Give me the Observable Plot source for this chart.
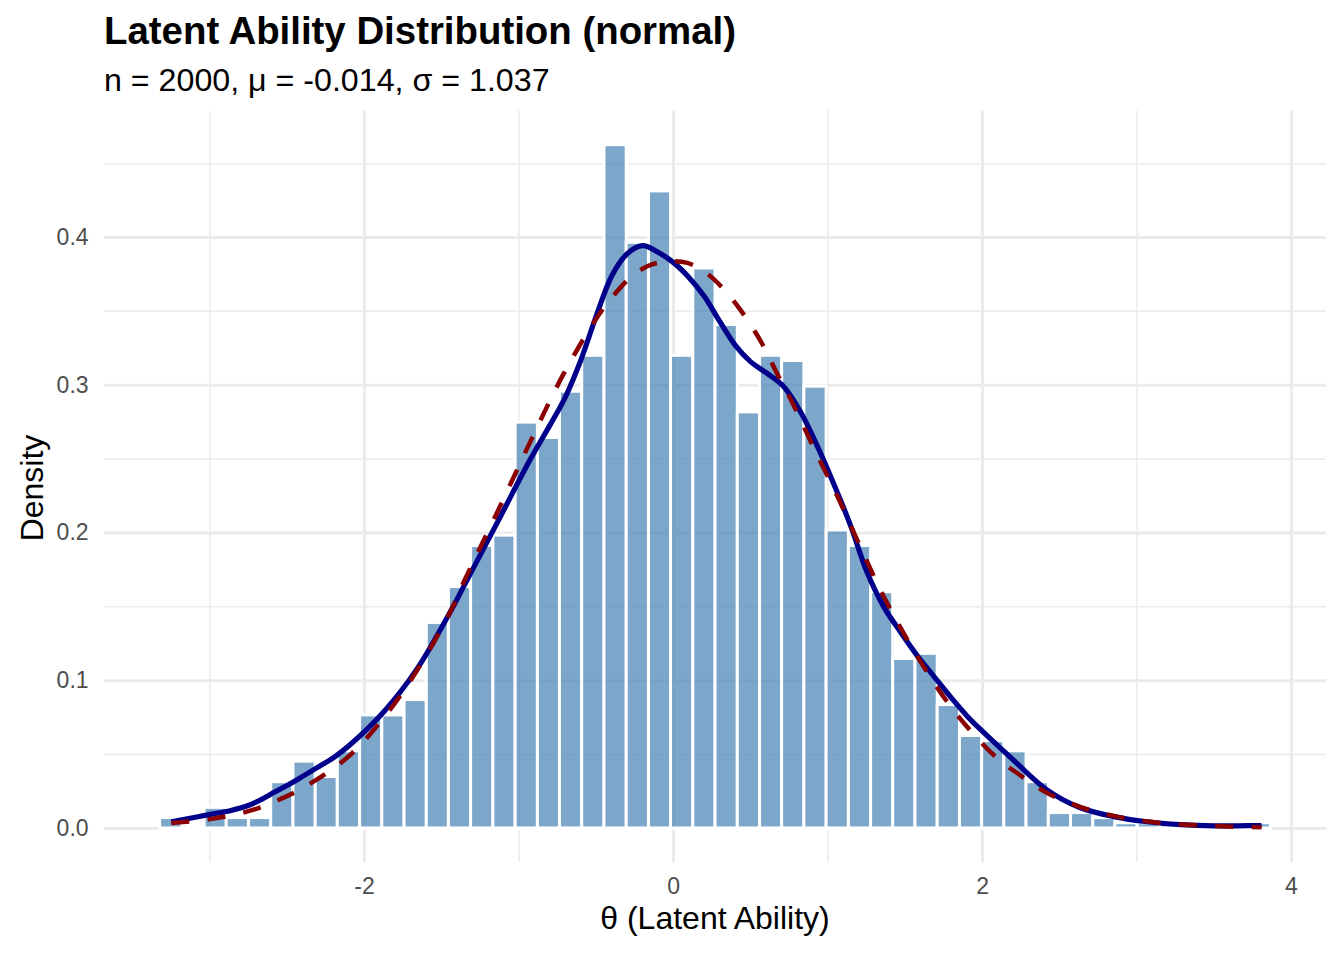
<!DOCTYPE html>
<html><head><meta charset="utf-8">
<script src="https://cdn.jsdelivr.net/npm/d3@7"></script>
<script src="https://cdn.jsdelivr.net/npm/@observablehq/plot@0.6"></script>
<style>
html,body{margin:0;padding:0;background:#fff;overflow:hidden;}
#wrap{position:relative;width:1344px;height:960px;font-family:"Liberation Sans",Arial,Helvetica,sans-serif;}
#title{position:absolute;left:104px;top:12px;font-size:38.4px;font-weight:bold;line-height:38px;color:#000;white-space:nowrap;}
#subtitle{position:absolute;left:104px;top:64px;font-size:32.2px;line-height:32px;color:#000;white-space:nowrap;}
#chart{position:absolute;left:0;top:100px;}
#xtitle{position:absolute;left:715px;top:902px;transform:translateX(-50%);font-size:32px;line-height:32px;color:#000;white-space:nowrap;}
#ytitle{position:absolute;left:31.5px;top:488px;transform:translate(-50%,-50%) rotate(-90deg);font-size:32px;line-height:32px;color:#000;white-space:nowrap;}
</style></head><body>
<div id="wrap">
<div id="title">Latent Ability Distribution (normal)</div>
<div id="subtitle">n = 2000, μ = -0.014, σ = 1.037</div>
<div id="chart"></div>
<div id="xtitle">θ (Latent Ability)</div>
<div id="ytitle">Density</div>
</div>
<script>
// Histogram bin edges (theta)
const binEdges = [-3.323,-3.179,-3.035,-2.892,-2.748,-2.604,-2.460,-2.316,-2.173,-2.029,
  -1.885,-1.741,-1.597,-1.454,-1.310,-1.166,-1.022,-0.878,-0.735,-0.591,
  -0.447,-0.303,-0.159,-0.016,0.128,0.272,0.416,0.560,0.703,0.847,
  0.991,1.135,1.279,1.422,1.566,1.710,1.854,1.998,2.141,2.285,
  2.429,2.573,2.717,2.860,3.004,3.148,3.292,3.436,3.579,3.723,3.867];
// Histogram densities per bin
const binDensity = [0.0070,0,0.0139,0.0070,0.0070,0.0313,0.0452,0.0348,0.0522,0.0765,
  0.0765,0.0869,0.1391,0.1634,0.1912,0.1982,0.2747,0.2643,0.2956,0.3199,
  0.4625,0.3964,0.4312,0.3199,0.3790,0.3408,0.2816,0.3199,0.3164,0.2990,
  0.2017,0.1912,0.1599,0.1147,0.1182,0.0835,0.0626,0.0591,0.0522,0.0313,
  0.0104,0.0104,0.0070,0.0035,0.0035,0.0035,0.0035,0,0.0035,0.0035];
// Kernel density curve
const kdeX = [-3.251,-3.0,-2.87,-2.74,-2.67,-2.61,-2.52,-2.42,-2.31,-2.20,-2.09,-1.875,-1.66,-1.443,-1.357,-1.141,-0.926,-0.80,-0.70,-0.60,-0.50,-0.40,-0.30,-0.20,-0.10,0.0,0.10,0.20,0.30,0.40,0.498,0.606,0.714,0.822,0.930,1.038,1.146,1.254,1.361,1.469,1.577,1.685,1.793,1.901,1.987,2.203,2.419,2.634,2.850,3.066,3.282,3.497,3.650,3.806];
const kdeY = [0.0045,0.0095,0.012,0.016,0.0195,0.023,0.028,0.034,0.041,0.048,0.057,0.079,0.108,0.147,0.164,0.207,0.250,0.273,0.292,0.317,0.347,0.374,0.389,0.3945,0.390,0.383,0.373,0.360,0.343,0.327,0.316,0.308,0.299,0.282,0.259,0.233,0.205,0.173,0.150,0.133,0.117,0.103,0.089,0.076,0.067,0.046,0.026,0.014,0.008,0.0045,0.0026,0.0017,0.0018,0.002];
// Reference normal curve
const normX = [-3.251,-3.0,-2.74,-2.52,-2.31,-2.09,-1.875,-1.66,-1.443,-1.357,-1.141,-0.926,-0.710,-0.494,-0.386,-0.278,-0.170,-0.063,0.089,0.218,0.325,0.433,0.563,0.670,0.780,0.910,1.060,1.190,1.380,1.640,1.850,2.090,2.230,2.419,2.634,2.870,3.100,3.340,3.580,3.806];
const normY = [0.0036,0.0063,0.012,0.021,0.033,0.050,0.075,0.107,0.147,0.167,0.214,0.262,0.308,0.346,0.361,0.373,0.3805,0.3835,0.3828,0.3755,0.3650,0.351,0.330,0.308,0.286,0.257,0.225,0.195,0.153,0.106,0.075,0.048,0.037,0.024,0.0145,0.008,0.0043,0.0024,0.0013,0.0008];
// Ticks
const xMajor = [-2,0,2,4];
const xMinor = [-3,-1,1,3];
const yMajor = [0,0.1,0.2,0.3,0.4];
const yMinor = [0.05,0.15,0.25,0.35,0.45];

const bins = binDensity.map((d,i)=>({x1: binEdges[i], x2: binEdges[i+1], density: d}));
const kde = kdeX.map((x,i)=>({x, y: kdeY[i]}));
const norm = normX.map((x,i)=>({x, y: normY[i]}));

const xLo = binEdges[0], xHi = binEdges[binEdges.length-1];
const xPad = (xHi - xLo) * 0.05;
const yMax = d3.max(binDensity);
const xDomain = [xLo - xPad, xHi + xPad];
const yDomain = [-yMax*0.05, yMax*1.05];

const grid = "#EBEBEB";
const chart = Plot.plot({
  width: 1344, height: 860,
  marginLeft: 104.1, marginRight: 18, marginTop: 10.5, marginBottom: 97.9,
  x: {domain: xDomain, axis: null},
  y: {domain: yDomain, axis: null},
  style: {fontFamily: '"Liberation Sans", Arial, Helvetica, sans-serif', background: "white", overflow: "visible"},
  marks: [
    Plot.gridX(xMinor, {stroke: grid, strokeOpacity: 1, strokeWidth: 1.5}),
    Plot.gridY(yMinor, {stroke: grid, strokeOpacity: 1, strokeWidth: 1.5}),
    Plot.gridX(xMajor, {stroke: grid, strokeOpacity: 1, strokeWidth: 3}),
    Plot.gridY(yMajor, {stroke: grid, strokeOpacity: 1, strokeWidth: 3}),
    Plot.ruleY([{y: 0, a: xLo, b: xHi}], {y: "y", x1: "a", x2: "b", stroke: "white", strokeWidth: 3}),
    Plot.rectY(bins, {x1: "x1", x2: "x2", y: "density", fill: "steelblue", fillOpacity: 0.7, stroke: "white", strokeWidth: 3}),
    Plot.line(kde, {x: "x", y: "y", stroke: "#00008B", strokeWidth: 5.2, curve: "catmull-rom", strokeLinecap: "butt"}),
    Plot.line(norm, {x: "x", y: "y", stroke: "#8B0000", strokeWidth: 4.5, strokeDasharray: "18.2,18.2", curve: "catmull-rom", strokeLinecap: "butt"}),
    Plot.axisX(xMajor, {tickSize: 0, tickPadding: 15, fontSize: 23, color: "#4D4D4D", tickFormat: d => String(d), label: null}),
    Plot.axisY(yMajor, {tickSize: 0, tickPadding: 16, fontSize: 23, color: "#4D4D4D", tickFormat: d3.format(".1f"), label: null})
  ]
});
document.getElementById("chart").appendChild(chart);
</script>
</body></html>
